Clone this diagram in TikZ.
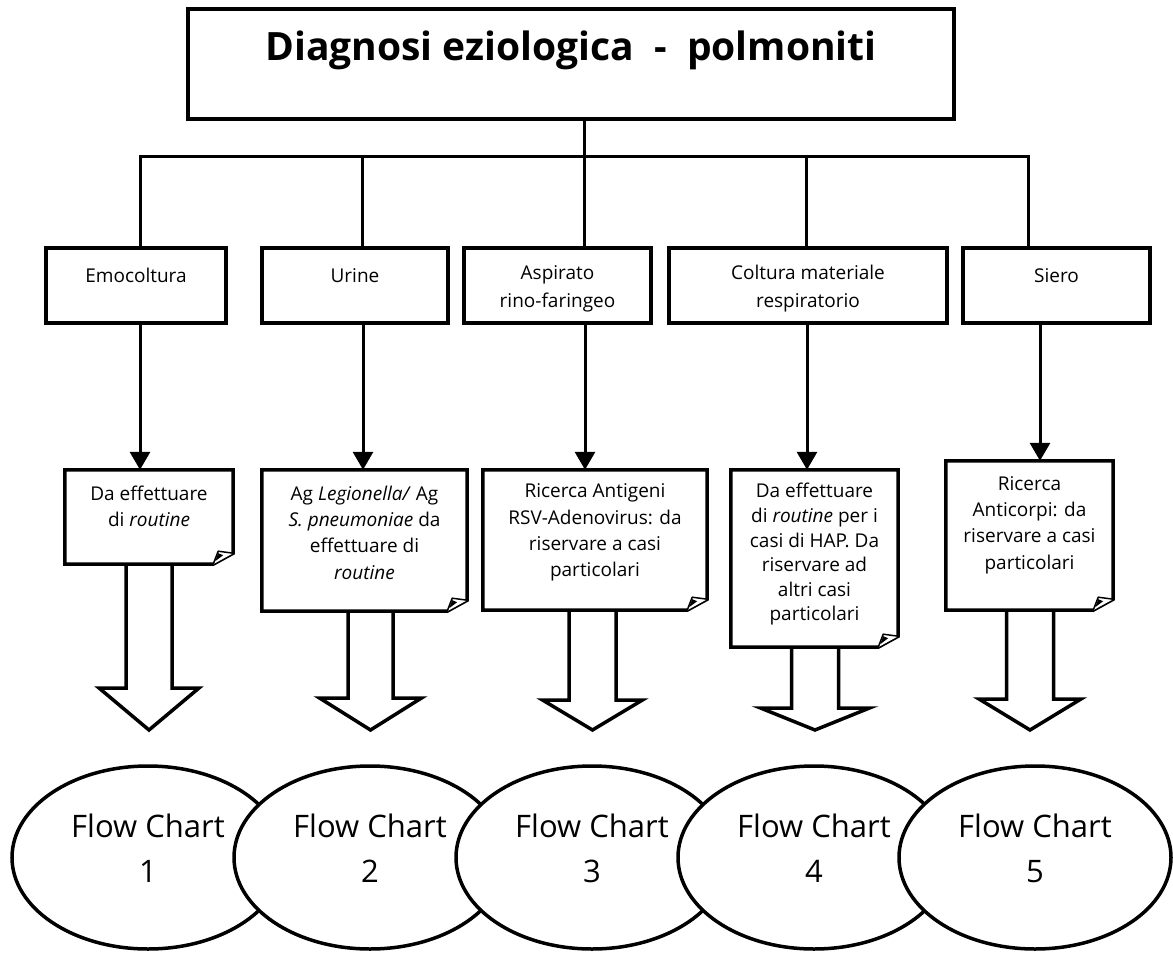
\documentclass[tikz,border=0pt]{standalone}
\usepackage{fontspec}
\setmainfont{Open Sans}
\usetikzlibrary{arrows.meta,shapes.geometric,calc}

% page with a turned-up bottom right corner, drawn round an (empty) node
\newcommand\notepage[1]{%
  \draw[pageline] (#1.north west) -- (#1.north east) -- ([yshift=11pt]#1.south east)
    -- ([xshift=-20pt]#1.south east) -- (#1.south west) -- cycle;
  \draw[line width=1.5pt,fill=white,line join=round] ([xshift=-20pt]#1.south east)
    -- ([xshift=-15pt,yshift=13pt]#1.south east) -- ([yshift=11pt]#1.south east);
  \fill ([xshift=-18pt,yshift=3pt]#1.south east) -- ([xshift=-15pt,yshift=11pt]#1.south east)
    -- ([xshift=-10pt,yshift=9pt]#1.south east) -- cycle;
}
% hollow downward block arrow: centre x, top, head base, half shaft, half head
\newcommand\bigdown[5]{%
  \draw[bigarrow] (#1-#4,#2) -- (#1-#4,#3) -- (#1-#5,#3) -- (#1,730) -- (#1+#5,#3)
    -- (#1+#4,#3) -- (#1+#4,#2);
}

\begin{document}
\begin{tikzpicture}[x=1pt,y=-1pt,
  frame/.style={draw=black,line width=3.5pt,rectangle,inner sep=0pt},
  conn/.style={line width=3pt,line join=miter},
  arr/.style={line width=3pt,-{Triangle[width=20pt,length=18pt]}},
  page/.style={rectangle,inner sep=0pt},
  pageline/.style={draw=black,line width=3.5pt,fill=white,line join=miter},
  bigarrow/.style={draw=black,line width=3.5pt,fill=white,line join=miter},
  flow/.style={ellipse,draw=black,line width=3.5pt,fill=white,
    minimum width=272pt,minimum height=183pt,inner sep=0pt},
  smalltext/.style={align=center,inner sep=0pt,font=\fontsize{19}{26.3}\selectfont},
  cattext/.style={align=center,inner sep=0pt,font=\fontsize{19}{28}\selectfont},
  flowtext/.style={align=center,inner sep=0pt,font=\fontsize{31}{45}\selectfont},
  titletext/.style={inner sep=0pt,font=\bfseries\fontsize{39}{47}\selectfont}
]
\useasboundingbox[fill=white] (0,0) rectangle (1173,960);

% title
\node[frame,minimum width=766pt,minimum height=110pt] (title) at (571,64) {};
\node[titletext] (titlet) at ([yshift=14pt]title.center) {Diagnosi eziologica\ \ -\ \ polmoniti};

% sample types
\node[frame,minimum width=180pt,minimum height=75pt] (cat1) at (136,285.5) {};
\node[frame,minimum width=186pt,minimum height=75pt] (cat2) at (355,285.5) {};
\node[frame,minimum width=187pt,minimum height=75pt] (cat3) at (557.5,285.5) {};
\node[frame,minimum width=278pt,minimum height=75pt] (cat4) at (808,285.5) {};
\node[frame,minimum width=187pt,minimum height=75pt] (cat5) at (1056.5,285.5) {};
\node[cattext] (cat1t) at ([yshift=10pt]cat1.center) {Emocoltura};
\node[cattext] (cat2t) at ([yshift=10pt]cat2.center) {Urine};
\node[cattext] (cat3t) at ([yshift=-3.5pt]cat3.center) {Aspirato\\rino-faringeo};
\node[cattext] (cat4t) at ([yshift=-3.5pt]cat4.center) {Coltura materiale\\respiratorio};
\node[cattext] (cat5t) at ([yshift=10pt]cat5.center) {Siero};

% tree connectors
\coordinate (hub) at (584,157);
\coordinate (d1) at (140,157);
\coordinate (d2) at (362,157);
\coordinate (d3) at (584,157);
\coordinate (d4) at (806,157);
\coordinate (d5) at (1028,157);
\draw[conn] (title.south -| hub) -- (hub);
\draw[conn] (cat1.north -| d1) -- (d1) -- (d5) -- (cat5.north -| d5);
\draw[conn] (d2) -- (cat2.north -| d2);
\draw[conn] (d3) -- (cat3.north -| d3);
\draw[conn] (d4) -- (cat4.north -| d4);

% block arrows towards the flow charts
\bigdown{149}{564}{688}{23}{50}
\bigdown{370.5}{611}{698}{22.5}{51}
\bigdown{592.5}{610}{700}{23.5}{50}
\bigdown{815}{647}{708}{23.5}{54.5}
\bigdown{1030}{610}{699}{23.5}{51}

% notes
\node[page,minimum width=168pt,minimum height=94pt] (n1) at (149,517) {};
\node[page,minimum width=205pt,minimum height=141pt] (n2) at (364.5,540.5) {};
\node[page,minimum width=224pt,minimum height=140pt] (n3) at (595,540) {};
\node[page,minimum width=167pt,minimum height=177pt] (n4) at (814.5,558.5) {};
\node[page,minimum width=167pt,minimum height=149pt] (n5) at (1029.5,535.5) {};
\notepage{n1}
\notepage{n2}
\notepage{n3}
\notepage{n4}
\notepage{n5}
\node[smalltext] (n1t) at ([yshift=10.5pt]n1.center) {Da effettuare\\di \textit{routine}};
\node[smalltext] (n2t) at ([yshift=8pt]n2.center) {Ag \textit{Legionella/} Ag\\\textit{S. pneumoniae} da\\effettuare di\\\textit{routine}};
\node[smalltext] (n3t) at ([yshift=7.5pt]n3.center) {Ricerca Antigeni\\RSV-Adenovirus: da\\riservare a casi\\particolari};
\node[smalltext,font=\fontsize{19}{24.6}\selectfont] (n4t) at ([yshift=4pt]n4.center) {Da effettuare\\di \textit{routine} per i\\casi di HAP. Da\\riservare ad\\altri casi\\particolari};
\node[smalltext] (n5t) at ([yshift=10.5pt]n5.center) {Ricerca\\Anticorpi: da\\riservare a casi\\particolari};

% arrows from sample types to notes
\coordinate (a1) at (140,0);
\coordinate (a2) at (363,0);
\coordinate (a3) at (585,0);
\coordinate (a4) at (807,0);
\coordinate (a5) at (1040,0);
\draw[arr] (cat1.south -| a1) -- (n1.north -| a1);
\draw[arr] (cat2.south -| a2) -- (n2.north -| a2);
\draw[arr] (cat3.south -| a3) -- (n3.north -| a3);
\draw[arr] (cat4.south -| a4) -- (n4.north -| a4);
\draw[arr] (cat5.south -| a5) -- (n5.north -| a5);

% flow charts, each one lying over the previous
\node[flow] (e1) at (148,857.5) {};
\node[flowtext] (e1t) at ([yshift=9pt]e1.center) {Flow Chart\\1};
\node[flow] (e2) at (370,857.5) {};
\node[flowtext] (e2t) at ([yshift=9pt]e2.center) {Flow Chart\\2};
\node[flow] (e3) at (592,857.5) {};
\node[flowtext] (e3t) at ([yshift=9pt]e3.center) {Flow Chart\\3};
\node[flow] (e4) at (814,857.5) {};
\node[flowtext] (e4t) at ([yshift=9pt]e4.center) {Flow Chart\\4};
\node[flow] (e5) at (1035,857.5) {};
\node[flowtext] (e5t) at ([yshift=9pt]e5.center) {Flow Chart\\5};
\end{tikzpicture}
\end{document}
